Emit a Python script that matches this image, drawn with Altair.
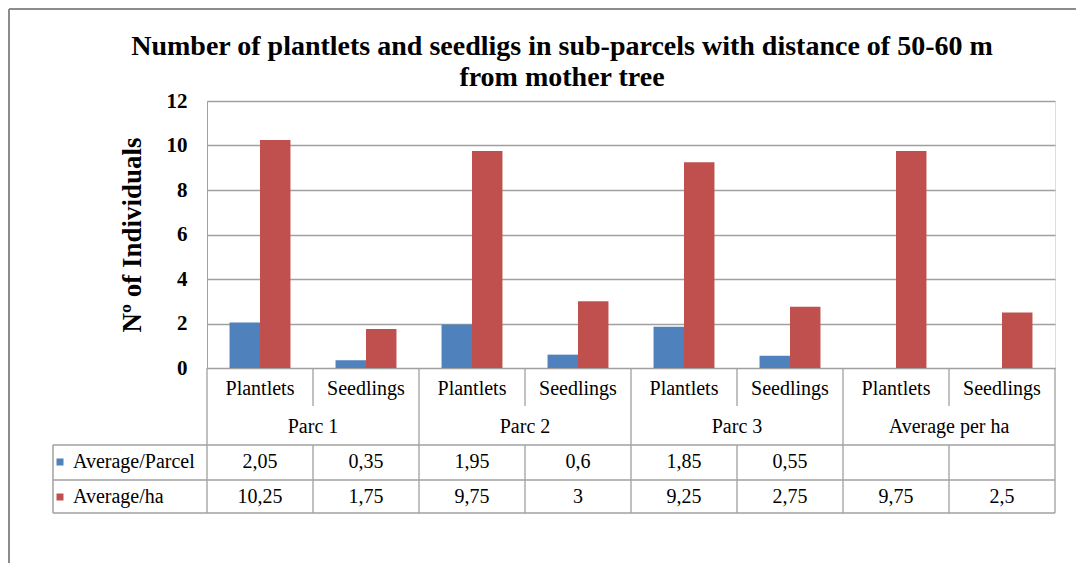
import altair as alt
import pandas as pd

# ---------------- data ----------------
groups = ["Parc 1", "Parc 1", "Parc 2", "Parc 2", "Parc 3", "Parc 3", "Average per ha", "Average per ha"]
subcats = ["Plantlets", "Seedlings", "Plantlets", "Seedlings", "Plantlets", "Seedlings", "Plantlets", "Seedlings"]
avg_parcel = [2.05, 0.35, 1.95, 0.6, 1.85, 0.55, None, None]
avg_ha = [10.25, 1.75, 9.75, 3, 9.25, 2.75, 9.75, 2.5]
series_names = ["Average/Parcel", "Average/ha"]
series_colors = ["#4F81BD", "#C0504D"]
y_ticks = [0, 2, 4, 6, 8, 10, 12]
title_lines = ["Number of plantlets and seedligs in sub-parcels with distance of 50-60 m",
               "from mother tree"]
y_title = "Nº of Individuals"

FONT = "Liberation Serif"
LINE = "#A0A0A0"

cats = [f"c{i}" for i in range(len(subcats))]


def fmt(v):
    if v is None:
        return ""
    return ("%g" % v).replace(".", ",")


bar_rows = []
for i, c in enumerate(cats):
    for s, vals in zip(series_names, [avg_parcel, avg_ha]):
        if vals[i] is not None:
            bar_rows.append({"cat": c, "series": s, "value": vals[i]})
bars_df = pd.DataFrame(bar_rows)

sub_df = pd.DataFrame({"cat": cats, "label": subcats})
grp_df = pd.DataFrame({"cat": [cats[i + 1] for i in range(0, len(cats), 2)],
                       "label": [groups[i] for i in range(0, len(cats), 2)]})
row1_df = pd.DataFrame({"cat": cats, "label": [fmt(v) for v in avg_parcel]})
row2_df = pd.DataFrame({"cat": cats, "label": [fmt(v) for v in avg_ha]})
key_df = pd.DataFrame({"series": series_names})
one_df = pd.DataFrame({"k": [0]})

xscale = alt.Scale(domain=cats, paddingInner=0, paddingOuter=0)
yscale = alt.Scale(domain=[0, 12], nice=False)
cscale = alt.Scale(domain=series_names, range=series_colors)
keyscale = alt.Scale(type="point", domain=series_names, range=[361, 396], padding=0)

X = lambda **kw: alt.X("cat:N", scale=xscale, axis=None, **kw)

bars = alt.Chart(bars_df).mark_bar().encode(
    x=alt.X("cat:N", scale=xscale, sort=cats,
            axis=alt.Axis(labels=False, ticks=False, domain=True, domainColor=LINE,
                          grid=False, title=None)),
    xOffset=alt.XOffset("series:N", sort=series_names,
                        scale=alt.Scale(domain=series_names, paddingOuter=0.74, paddingInner=0)),
    y=alt.Y("value:Q", scale=yscale,
            axis=alt.Axis(values=y_ticks, grid=True, gridColor=LINE, gridWidth=1.3,
                          domain=True, domainColor=LINE, ticks=False,
                          labelFont=FONT, labelFontWeight="bold", labelFontSize=21,
                          labelColor="black", labelPadding=20,
                          title=y_title, titleFont=FONT, titleFontWeight="bold",
                          titleFontSize=27, titleColor="black",
                          titleX=-67, titleY=133.5, titleBaseline="alphabetic")),
    color=alt.Color("series:N", scale=cscale, legend=None),
)


def text_layer(df, ypix, band=None):
    enc_x = X(bandPosition=band) if band is not None else X()
    return alt.Chart(df).mark_text(font=FONT, fontSize=20, color="black",
                                   baseline="middle").encode(
        x=enc_x, y=alt.value(ypix), text="label:N")


sub_text = text_layer(sub_df, 288)
grp_text = text_layer(grp_df, 326, band=0)
row1_text = text_layer(row1_df, 361)
row2_text = text_layer(row2_df, 396)

# table grid lines
full_v = alt.Chart(pd.DataFrame({"cat": cats[0::2]})).mark_rule(color=LINE, strokeWidth=1.3).encode(
    x=X(bandPosition=0), y=alt.value(267), y2=alt.value(412))
right_v = alt.Chart(pd.DataFrame({"cat": [cats[-1]]})).mark_rule(color=LINE, strokeWidth=1.3).encode(
    x=X(bandPosition=1), y=alt.value(267), y2=alt.value(412))
sub_v_top = alt.Chart(pd.DataFrame({"cat": cats[1::2]})).mark_rule(color=LINE, strokeWidth=1.3).encode(
    x=X(bandPosition=0), y=alt.value(267), y2=alt.value(305))
sub_v_bot = alt.Chart(pd.DataFrame({"cat": cats[1::2]})).mark_rule(color=LINE, strokeWidth=1.3).encode(
    x=X(bandPosition=0), y=alt.value(344), y2=alt.value(412))

h_lines = [
    alt.Chart(one_df).mark_rule(color=LINE, strokeWidth=1.5).encode(
        x=alt.value(-154), x2=alt.value(848), y=alt.value(yy))
    for yy in (344, 379, 412)
]
left_v = alt.Chart(one_df).mark_rule(color=LINE, strokeWidth=1.5).encode(
    x=alt.value(-154), y=alt.value(344), y2=alt.value(412))

# legend keys inside the table
key_sq = alt.Chart(key_df).mark_point(shape="square", filled=True, size=49, opacity=1).encode(
    x=alt.value(-147),
    y=alt.Y("series:N", sort=series_names, axis=None, scale=keyscale),
    color=alt.Color("series:N", scale=cscale, legend=None),
)
key_txt = alt.Chart(key_df).mark_text(font=FONT, fontSize=20, color="black", align="left",
                                      baseline="middle").encode(
    x=alt.value(-134),
    y=alt.Y("series:N", sort=series_names, axis=None, scale=keyscale),
    text="series:N",
)

# chart title (two lines)
title_layers = [
    alt.Chart(pd.DataFrame({"t": [line]})).mark_text(
        font=FONT, fontSize=28, fontWeight="bold", color="black",
        align="center", baseline="middle").encode(
        x=alt.value(355), y=alt.value(yy), text="t:N")
    for line, yy in zip(title_lines, (-54, -23))
]

# outer frame
frame_top = alt.Chart(one_df).mark_rule(color="#8C8C8C", strokeWidth=2).encode(
    x=alt.value(-198), x2=alt.value(880), y=alt.value(-92))
frame_left = alt.Chart(one_df).mark_rule(color="#8C8C8C", strokeWidth=2).encode(
    x=alt.value(-198), y=alt.value(-92), y2=alt.value(470))

chart = alt.layer(
    bars, full_v, right_v, sub_v_top, sub_v_bot, left_v, *h_lines,
    sub_text, grp_text, row1_text, row2_text, key_sq, key_txt, *title_layers,
    frame_top, frame_left,
).resolve_scale(y="independent").properties(
    width=848, height=267,
    padding={"left": 199, "top": 93, "right": 21, "bottom": 195},
    autosize=alt.AutoSizeParams(type="none"),
).configure_view(stroke=None).configure(background="white")

chart.save("out.html", embed_options={"renderer": "svg", "actions": False})
